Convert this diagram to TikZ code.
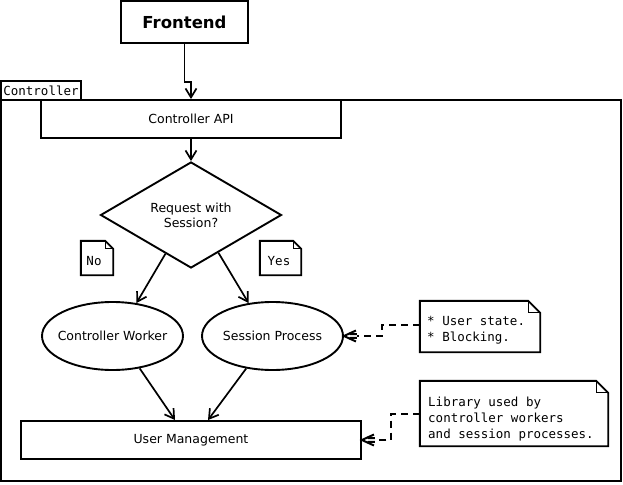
\documentclass[tikz,border=0pt]{standalone}
\usepackage{fontspec}
\setmainfont{DejaVu Sans}
\setmonofont{DejaVu Sans Mono}
\usetikzlibrary{shapes.geometric,arrows.meta,calc}
\pgfdeclarearrow{
  name = DepHead,
  setup code = {
    \pgfarrowssettipend{0pt}
    \pgfarrowssetlineend{-13pt}
    \pgfarrowssetbackend{-13pt}
    \pgfarrowshullpoint{0pt}{0pt}
    \pgfarrowsupperhullpoint{-13pt}{5pt}
  },
  drawing code = {
    \pgfsetdash{}{0pt}
    \pgfpathmoveto{\pgfpoint{-12pt}{5.5pt}}
    \pgfpathlineto{\pgfpointorigin}
    \pgfpathlineto{\pgfpoint{-12pt}{-5.5pt}}
    \pgfpathmoveto{\pgfpoint{-6pt}{1.8pt}}
    \pgfpathlineto{\pgfpoint{-13pt}{1.8pt}}
    \pgfpathmoveto{\pgfpoint{-6pt}{-1.8pt}}
    \pgfpathlineto{\pgfpoint{-13pt}{-1.8pt}}
    \pgfusepathqstroke
  },
  defaults = {}
}
\tikzset{
  txt/.style={font=\fontsize{12.5}{15}\selectfont},
  mono/.style={font=\ttfamily\fontsize{12.5}{16}\selectfont},
  box/.style={draw, line width=1.9pt, rectangle, inner sep=0pt, txt},
  oval/.style={draw, line width=1.9pt, ellipse, inner xsep=-14pt, inner ysep=0pt, txt, minimum width=141pt, minimum height=68pt},
  decision/.style={draw, line width=1.9pt, diamond, inner sep=0pt, txt, align=center, minimum width=181pt, minimum height=106pt},
  noteshape/.style={inner sep=0pt},
  notetext/.style={mono, align=left, inner sep=0pt, anchor=west},
  flow/.style={line width=1.7pt, -{Straight Barb[length=9pt,width=11pt,line width=1.7pt]}},
  dep/.style={line width=2pt, dash pattern=on 7pt off 5pt, -{DepHead[line width=1.8pt]}},
}
\begin{document}
\begin{tikzpicture}[x=1pt,y=-1pt]
\useasboundingbox (0,0) rectangle (623,484);
% frame
\node[box, mono, line width=2.2pt, minimum width=80pt, minimum height=19pt] (tab) at (41,90.5) {Controller};
\draw[line width=2.5pt] (1,100) rectangle (621,481);
% nodes
\node[box, line width=2.3pt, minimum width=127pt, minimum height=42pt, font=\bfseries\fontsize{16.5}{20}\selectfont] (fe) at (184.5,22) {Frontend};
\node[box, minimum width=300pt, minimum height=38pt] (api) at (191,119) {Controller API};
\node[decision] (dec) at (191,215) {Request with\\Session?};
\node[oval] (cw) at (112.5,336) {Controller Worker};
\node[oval] (sp) at (272.5,336) {Session Process};
\node[box, minimum width=340pt, minimum height=38pt] (um) at (191,440) {User Management};
% notes
\node[noteshape, minimum width=32pt, minimum height=34pt] (no) at (97,258) {};
\node[noteshape, minimum width=41pt, minimum height=34pt] (yes) at (280.5,258) {};
\node[noteshape, minimum width=120pt, minimum height=51pt] (n1) at (480,326.5) {};
\node[noteshape, minimum width=188pt, minimum height=65pt] (n2) at (514,413.5) {};
\foreach \n/\f in {no/8, yes/8, n1/12, n2/12}{
  \draw[line width=1.9pt, line join=miter]
    (\n.north west) -- ($(\n.north east)+(-\f,0)$) -- ($(\n.north east)+(0,\f)$)
    -- (\n.south east) -- (\n.south west) -- cycle;
  \draw[line width=1pt] ($(\n.north east)+(-\f,0)$) -- ($(\n.north east)+(-\f,\f)$) -- ($(\n.north east)+(0,\f)$);
}
\node[mono, inner sep=0pt] (not) at (94,261) {No};
\node[mono, inner sep=0pt] (yest) at (279,261) {Yes};
\node[notetext] (n1t) at (427,330) {* User state.\\* Blocking.};
\node[notetext] (n2t) at (428,419) {Library used by\\controller workers\\and session processes.};
% connectors
\draw[flow] (fe.south) -- ++(0,38) -| (api.north);
\draw[flow] (api.south) -- (dec.north);
\draw[flow] ($(dec.west)!0.72!(dec.south)$) -- (cw.54);
\draw[flow] ($(dec.east)!0.7!(dec.south)$) -- (sp.126);
\draw[flow] (cw.-50) -- ($(um.north)+(-16,0)$);
\draw[flow] (sp.-129) -- ($(um.north)+(17,0)$);
\draw[dep] ($(n1.west)+(0,-1.5)$) -- ++(-38,0) |- (sp.east);
\draw[dep] (n2.west) -- ++(-29,0) |- (um.east);
\end{tikzpicture}
\end{document}
